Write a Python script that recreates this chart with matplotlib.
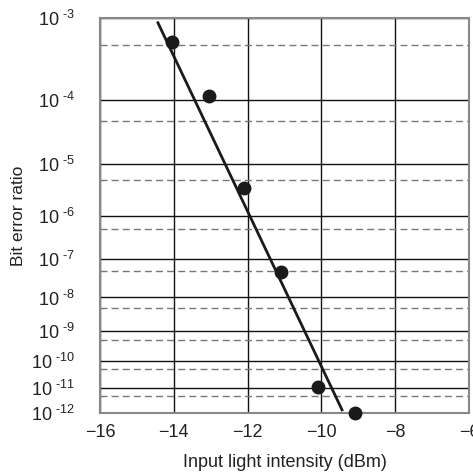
import numpy as np
import matplotlib
matplotlib.use('Agg')
import matplotlib.pyplot as plt
from matplotlib.ticker import FixedLocator, FuncFormatter

# data
power = [-14.05, -13.05, -12.1, -11.1, -10.1, -9.1]
ber = [5.4e-4, 1.15e-4, 3.6e-6, 4.7e-8, 1.15e-11, 1.0e-12]
fit_x = [-14.43, -9.44]
fit_y = [8.9e-4, 1.35e-12]
major_exp = list(range(3, 13))
minor_vals = [5 * 10.0 ** -n for n in range(4, 13)]
xticks = [-16, -14, -12, -10, -8, -6]

plt.rcParams['font.family'] = ['Liberation Sans', 'DejaVu Sans']
plt.rcParams['mathtext.fontset'] = 'custom'
plt.rcParams['mathtext.rm'] = 'Liberation Sans'


def fwd(y):
    y = np.clip(np.asarray(y, dtype=float), 1e-300, 0.999999)
    return -np.log10(-np.log10(y))


def inv(v):
    return 10.0 ** (-10.0 ** (-np.asarray(v, dtype=float)))


fig = plt.figure(figsize=(4.73, 4.74), dpi=100)
ax = fig.add_axes([0.2114, 0.1287, 0.7801, 0.8333])
ax.set_yscale('function', functions=(fwd, inv))
ax.set_ylim(1e-12, 1e-3)
ax.set_xlim(-16, -6)

ax.yaxis.set_major_locator(FixedLocator([10.0 ** -n for n in major_exp]))
ax.yaxis.set_minor_locator(FixedLocator(minor_vals))
ax.yaxis.set_major_formatter(FuncFormatter(
    lambda v, p: r'$\mathregular{10^{\ \text{-}%d}}$' % -round(np.log10(v))))
ax.yaxis.set_minor_formatter(FuncFormatter(lambda v, p: ''))
ax.set_xticks(xticks)

ax.grid(True, which='major', axis='both', color='#111111', lw=1.0)
ax.grid(True, which='minor', axis='y', color='#777777', lw=1.0,
        ls=(0, (5, 3)))
ax.set_axisbelow(True)

ax.tick_params(axis='both', which='both', length=0, labelsize=13,
               colors='#222222')
ax.tick_params(axis='y', pad=18)
ax.tick_params(axis='x', pad=8)
for s in ax.spines.values():
    s.set_color('#888888')
    s.set_linewidth(1.5)

ax.plot(fit_x, fit_y, '-', color='#1a1a1a', lw=2.0, clip_on=False)
ax.plot(power, ber, 'o', color='#1a1a1a', ms=9, clip_on=False, zorder=5)

ax.set_xlabel('Input light intensity (dBm)', fontsize=13, color='#222222',
              labelpad=9)
ax.set_ylabel('Bit error ratio', fontsize=12.5, color='#222222')
ax.yaxis.set_label_coords(-0.2, 0.5)

fig.savefig('out.png', dpi=100)
